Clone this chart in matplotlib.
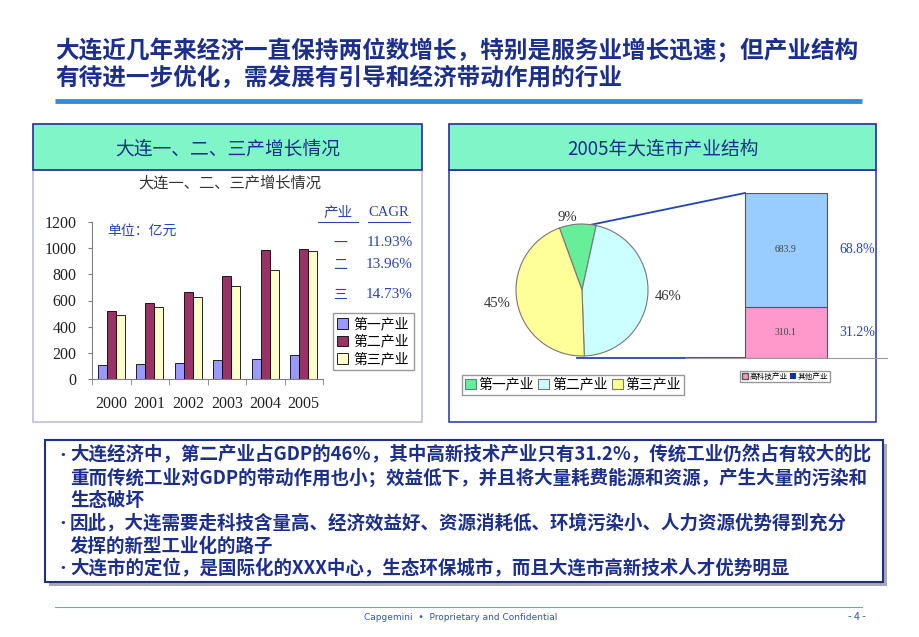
#! /usr/bin/env python3

import numpy as np
import matplotlib
matplotlib.use("Agg")
import matplotlib.pyplot as plt
from matplotlib.patches import Rectangle, Patch

plt.rcParams['font.family'] = ['Noto Sans CJK SC', 'DejaVu Sans']
SERIF = ['Liberation Serif', 'Noto Sans CJK SC']

# data
years = ['2000', '2001', '2002', '2003', '2004', '2005']
primary = [107, 114, 122, 145, 152, 183]
secondary = [520, 579, 662, 787, 985, 994]
tertiary = [490, 551, 627, 711, 832, 975]
series_names = ['第一产业', '第二产业', '第三产业']
cagr_labels = ['一', '二', '三']
cagr_values = ['11.93%', '13.96%', '14.73%']

pie_share = [9, 46, 45]
pie_labels = ['9%', '46%', '45%']

sec_parts = [310.1, 683.9]
sec_names = ['高科技产业', '其他产业']

title_lines = ['大连近几年来经济一直保持两位数增长，特别是服务业增长迅速；但产业结构',
               '有待进一步优化，需发展有引导和经济带动作用的行业']
bullets = [['大连经济中，第二产业占GDP的46％，其中高新技术产业只有31.2%，传统工业仍然占有较大的比',
            '重而传统工业对GDP的带动作用也小；效益低下，并且将大量耗费能源和资源，产生大量的污染和',
            '生态破坏'],
           ['因此，大连需要走科技含量高、经济效益好、资源消耗低、环境污染小、人力资源优势得到充分',
            '发挥的新型工业化的路子'],
           ['大连市的定位，是国际化的XXX中心，生态环保城市，而且大连市高新技术人才优势明显']]

W, H = 920, 637
DARK_BLUE = '#1c2f8c'
TXT_BLUE = '#2a45b0'


def fx(px):
    return px / W


def fy(py):
    return 1 - py / H


def box(x0, y0, x1, y1):
    """ figure rect from pixel corners"""
    return [fx(x0), fy(y1), (x1 - x0) / W, (y1 - y0) / H]


fig = plt.figure(figsize=(W / 100, H / 100), dpi=100)
bg = fig.add_axes([0, 0, 1, 1])
bg.set_xlim(0, W)
bg.set_ylim(H, 0)
bg.axis('off')

# // title //
for i, line in enumerate(title_lines):
    bg.text(55, 50 + i * 28, line, fontsize=17, weight='bold', color=DARK_BLUE,
            va='center', ha='left')
bg.plot([55, 862], [101, 101], color='#2f8fdd', lw=3.5, solid_capstyle='butt')

# // panels //
for x0, x1, title, edge in [(33, 422, '大连一、二、三产增长情况', '#b8b8e0'),
                            (449, 876, '2005年大连市产业结构', '#2233aa')]:
    bg.add_patch(Rectangle((x0, 170), x1 - x0, 252, facecolor='white', edgecolor=edge, lw=1.1))
    bg.add_patch(Rectangle((x0, 124), x1 - x0, 46, facecolor='#80f5c8', edgecolor='#1f2f99', lw=1.2))
    bg.text((x0 + x1) / 2, 149, title, fontsize=13.5, color=DARK_BLUE, ha='center', va='center')

# // bar chart //
ax = fig.add_axes(box(92, 222, 323, 379))
ax.patch.set_visible(False)
x = np.arange(len(years))
bw = 0.23
colors = ['#9999ff', '#993366', '#ffffcc']
for k, (vals, c) in enumerate(zip([primary, secondary, tertiary], colors)):
    ax.bar(x + (k - 1) * bw, vals, bw, color=c, edgecolor='black', lw=0.6,
           label=series_names[k])
ax.set_xlim(-0.5, len(years) - 0.5)
ax.set_ylim(0, 1200)
ax.set_yticks(range(0, 1201, 200))
ax.set_xticks(x)
ax.set_xticklabels(years)
ax.set_xticks(np.arange(-0.5, len(years)), minor=True)
ax.tick_params(axis='x', which='major', length=0, pad=12)
ax.tick_params(axis='x', which='minor', length=4, direction='out', color='#808080')
ax.tick_params(axis='y', length=3, direction='out', color='#808080', pad=8)
for lab in ax.get_xticklabels() + ax.get_yticklabels():
    lab.set_family(SERIF)
    lab.set_fontsize(11.5)
    lab.set_color('#222222')
for s in ['top', 'right']:
    ax.spines[s].set_visible(False)
for s in ['left', 'bottom']:
    ax.spines[s].set_color('#808080')
ax.legend(loc='upper left', bbox_to_anchor=(fx(333), fy(313)), bbox_transform=fig.transFigure,
          fontsize=10, frameon=True, fancybox=False, edgecolor='#808080', borderpad=0.3,
          labelspacing=0.25, handlelength=0.8, handleheight=0.8, handletextpad=0.4,
          borderaxespad=0)

bg.text(230, 183, '大连一、二、三产增长情况', fontsize=11, color='#333333', ha='center', va='center')
bg.text(107, 231, '单位：亿元', fontsize=10, color=TXT_BLUE, va='center')
bg.text(338, 213, '产业', fontsize=10.5, color=TXT_BLUE, ha='center', va='center')
bg.text(389, 213, 'CAGR', fontsize=10.5, color=TXT_BLUE, ha='center', va='center', family=SERIF)
bg.plot([318, 358], [222, 222], color=TXT_BLUE, lw=0.8)
bg.plot([368, 410], [222, 222], color=TXT_BLUE, lw=0.8)
for lab, val, yy in zip(cagr_labels, cagr_values, [243, 265, 295]):
    bg.text(340, yy, lab, fontsize=10, color=TXT_BLUE, ha='center', va='center')
    bg.text(413, yy, val, fontsize=11, color=TXT_BLUE, ha='right', va='center', family=SERIF)

# connector lines pie -> bar (under the charts)
bg.plot([585, 745], [226, 193], color='#2244bb', lw=1.3)
bg.plot([577, 745], [358, 358], color='#2244bb', lw=1.3)

# // pie //
axp = fig.add_axes(box(516, 224, 648, 356))
axp.patch.set_visible(False)
wedges, texts = axp.pie(pie_share, labels=pie_labels, colors=['#66ee99', '#ccffff', '#ffff99'],
                        startangle=110, counterclock=False, labeldistance=1.1,
                        wedgeprops=dict(edgecolor='#777777', lw=0.8))
for t in texts:
    t.set_family(SERIF)
    t.set_fontsize(10.5)
    t.set_color('#333333')
axp.set_xlim(-1, 1)
axp.set_ylim(-1, 1)
axp.legend(wedges, series_names, loc='upper left', bbox_to_anchor=(fx(462), fy(375)),
           bbox_transform=fig.transFigure, ncol=3, fontsize=10, frameon=True, fancybox=False,
           edgecolor='#808080', borderpad=0.2, handlelength=0.8, handleheight=0.8,
           handletextpad=0.2, columnspacing=0.3, borderaxespad=0)

# // secondary industry split //
axs = fig.add_axes(box(685, 193, 887, 358))
axs.patch.set_visible(False)
total = sum(sec_parts)
sec_colors = ['#ff99cc', '#99ccff']
bottom = 0
for v, c in zip(sec_parts, sec_colors):
    axs.bar(0.5, v, 0.406, bottom=bottom, color=c, edgecolor='#555555', lw=0.8)
    axs.text(0.5, bottom + v / 2, f'{v:.1f}', fontsize=7, color='#444444', ha='center',
             va='center', family=SERIF)
    axs.text(0.85, bottom + v / 2, f'{v / total * 100:.1f}%', fontsize=10, color=TXT_BLUE,
             ha='center', va='center', family=SERIF)
    bottom += v
axs.set_xlim(0, 1)
axs.set_ylim(0, total)
axs.set_xticks([])
axs.set_yticks([])
for s in ['top', 'right', 'left']:
    axs.spines[s].set_visible(False)
axs.spines['bottom'].set_color('#999999')
axs.legend([Patch(facecolor='#ff99cc', edgecolor='#555555'), Patch(facecolor='#1030b0')],
           sec_names, loc='upper left', bbox_to_anchor=(fx(740), fy(371)),
           bbox_transform=fig.transFigure, ncol=2, fontsize=5.5, frameon=True, fancybox=False,
           edgecolor='#808080', borderpad=0.2, handlelength=0.8, handleheight=0.8,
           handletextpad=0.2, columnspacing=0.4, borderaxespad=0)

# // text box //
bg2 = fig.add_axes([0, 0, 1, 1])
bg2.set_xlim(0, W)
bg2.set_ylim(H, 0)
bg2.axis('off')
bg2.add_patch(Rectangle((49, 444), 838, 142, facecolor='#aaaaaa', edgecolor='none'))
bg2.add_patch(Rectangle((45, 440), 838, 142, facecolor='white', edgecolor=DARK_BLUE, lw=1.5))
yy = 455
for para in bullets:
    bg2.text(54, yy, '•', fontsize=12, color=DARK_BLUE, va='center', ha='left')
    for line in para:
        bg2.text(70, yy, line, fontsize=13.3, color=DARK_BLUE, weight='bold', va='center',
                 ha='left')
        yy += 22.8

# // footer //
bg2.plot([55, 862], [607, 607], color='#55aadd', lw=0.8)
bg2.text(461, 617, 'Capgemini  •  Proprietary and Confidential', fontsize=6.5, color='#3355aa',
         ha='center', va='center', family=['Liberation Sans Narrow', 'DejaVu Sans'])
bg2.text(857, 617, '- 4 -', fontsize=7.5, color='#3355aa', ha='center', va='center')

fig.savefig('out.png', dpi=100)
